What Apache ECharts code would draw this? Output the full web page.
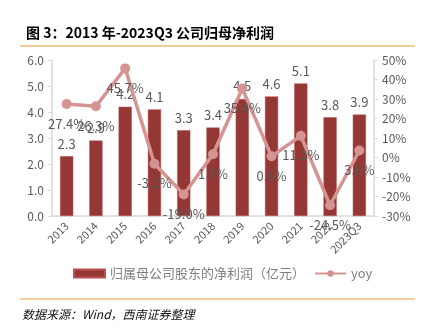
<!DOCTYPE html>
<html>
<head>
<meta charset="utf-8">
<script src="https://cdn.jsdelivr.net/npm/echarts@6/dist/echarts.min.js"></script>
<style>
html,body{margin:0;padding:0;background:#fff;}
#chart{width:424px;height:331px;}
</style>
</head>
<body>
<div id="chart"></div>
<script>
// 年份类别
const categories = ['2013','2014','2015','2016','2017','2018','2019','2020','2021','2022','2023Q3'];
// 归属母公司股东的净利润（亿元）
const netProfit = [2.3, 2.9, 4.2, 4.1, 3.3, 3.4, 4.5, 4.6, 5.1, 3.8, 3.9];
// 同比增速（%）
const yoy = [27.4, 26.3, 45.7, -3.2, -19.0, 1.7, 35.4, 0.6, 11.1, -24.5, 3.6];
// 坐标轴刻度
const leftTicks = [0, 6, 1];
const rightTicks = [-30, 50, 10];

const barName = '归属母公司股东的净利润（亿元）';
const lineName = 'yoy';
const font = "'Noto Sans CJK SC', 'Liberation Sans', sans-serif";
const grey = '#595959';
const gold = '#E3A03C';

const chart = echarts.init(document.getElementById('chart'));
chart.setOption({
  animation: false,
  textStyle: { fontFamily: font },
  title: {
    text: '图 3：2013 年-2023Q3 公司归母净利润',
    left: 21, top: 21,
    textStyle: { fontSize: 14, fontWeight: 'bold', color: '#000', fontFamily: font }
  },
  graphic: [
    { type: 'line', shape: { x1: 20, y1: 46, x2: 415, y2: 46 }, style: { stroke: gold, lineWidth: 1.2 } },
    { type: 'line', shape: { x1: 20, y1: 299, x2: 415, y2: 299 }, style: { stroke: gold, lineWidth: 1.2 } },
    { type: 'text', left: 22, top: 308, style: { text: '数据来源：Wind，西南证券整理', fill: '#111', font: "italic 12px 'Noto Sans CJK SC', sans-serif" } }
  ],
  legend: {
    bottom: 46, left: 68,
    itemGap: 9,
    itemWidth: 31, itemHeight: 8,
    textStyle: { color: '#7f7f7f', fontSize: 13 },
    data: [
      { name: barName, icon: 'rect' },
      { name: lineName }
    ]
  },
  grid: { left: 52, right: 50, top: 60, bottom: 115 },
  xAxis: {
    type: 'category',
    data: categories,
    axisLine: { lineStyle: { color: '#d9d9d9', width: 1.5 } },
    axisTick: { show: false },
    axisLabel: { rotate: 45, color: grey, fontSize: 11, interval: 0, margin: 8 }
  },
  yAxis: [
    {
      type: 'value', min: leftTicks[0], max: leftTicks[1], interval: leftTicks[2],
      axisLine: { show: true, lineStyle: { color: '#d9d9d9', width: 1.5 } },
      axisTick: { show: true, length: 4, lineStyle: { color: '#d9d9d9' } },
      splitLine: { show: false },
      axisLabel: { color: grey, fontSize: 12, formatter: v => v.toFixed(1) }
    },
    {
      type: 'value', min: rightTicks[0], max: rightTicks[1], interval: rightTicks[2],
      position: 'right',
      axisLine: { show: true, lineStyle: { color: '#d9d9d9', width: 1.5 } },
      axisTick: { show: true, length: 4, lineStyle: { color: '#d9d9d9' } },
      splitLine: { show: false },
      axisLabel: { color: grey, fontSize: 12, formatter: v => v + '%' }
    }
  ],
  series: [
    {
      name: barName, type: 'bar', yAxisIndex: 0,
      data: netProfit, barWidth: '45%',
      itemStyle: { color: '#953735', borderColor: '#B8514F', borderWidth: 0.5 },
      label: { show: true, position: 'top', color: grey, fontSize: 13, distance: 6, formatter: p => p.value.toFixed(1) }
    },
    {
      name: lineName, type: 'line', yAxisIndex: 1,
      data: yoy, symbol: 'circle', symbolSize: 10,
      lineStyle: { color: '#D59392', width: 3.5 },
      itemStyle: { color: '#D59392' },
      label: { show: true, position: 'bottom', distance: 8, color: grey, fontSize: 13, formatter: p => p.value.toFixed(1) + '%' },
      z: 3
    }
  ]
});
</script>
</body>
</html>
